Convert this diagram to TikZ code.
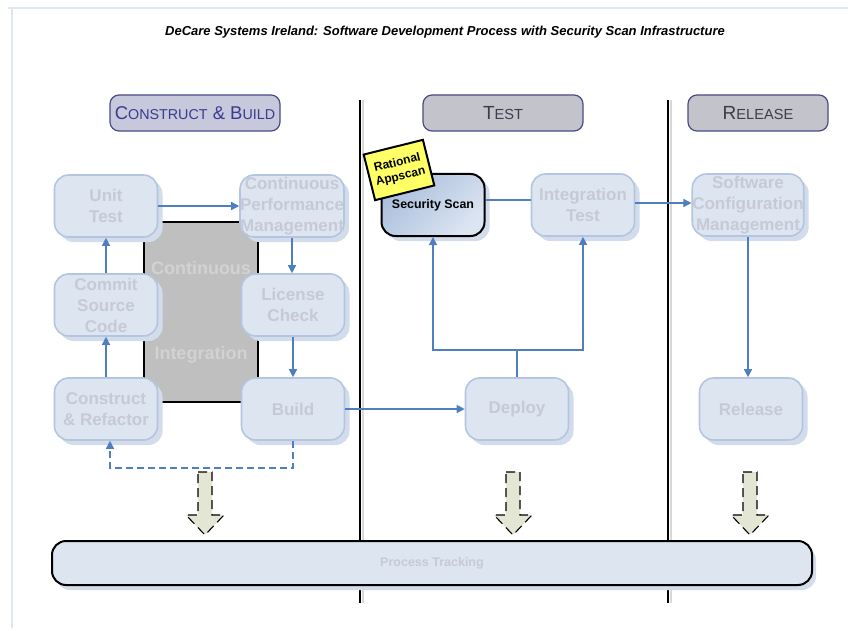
\documentclass[tikz,border=0pt]{standalone}
\usepackage{fontspec}
\setmainfont{Liberation Sans}
\usetikzlibrary{arrows.meta,shadows,calc}
\definecolor{nodefill}{HTML}{DDE5F1}
\definecolor{nodeedge}{HTML}{B3C5DF}
\definecolor{nodetext}{HTML}{C6CAD6}
\definecolor{shadowc}{HTML}{D3DCEA}
\definecolor{flow}{HTML}{4F7FC0}
\definecolor{hdrfill}{HTML}{C3C3CB}
\definecolor{hdrfillB}{HTML}{C8C8DC}
\definecolor{hdredge}{HTML}{4A4A86}
\definecolor{hdrtext}{HTML}{3A3A8E}
\definecolor{hdrtextB}{HTML}{3C3C4C}
\definecolor{citext}{HTML}{D2D2D2}
\definecolor{cifill}{HTML}{BFBFBF}
\definecolor{secfillA}{HTML}{A9BEDC}
\definecolor{secfillB}{HTML}{DCE5F2}
\definecolor{sticker}{HTML}{FFFF66}
\definecolor{blockfill}{HTML}{E4E6D4}
\definecolor{framec}{HTML}{DFE6EF}
\begin{document}
\begin{tikzpicture}[x=1pt,y=-1pt,
  proc/.style={rectangle, rounded corners=14pt, fill=nodefill, draw=nodeedge, line width=1.6pt,
    minimum width=103pt, minimum height=62pt, align=center, text=nodetext,
    font=\fontsize{17}{21}\selectfont\bfseries, inner sep=0pt,
    drop shadow={shadow xshift=5pt, shadow yshift=-5pt, fill=shadowc, opacity=1}},
  hdr/.style={rectangle, rounded corners=9pt, draw=hdredge, line width=1.2pt, fill=hdrfill,
    minimum height=36pt, text=hdrtextB},
  flowline/.style={draw=flow, line width=1.3pt},
  flowarrow/.style={flowline, -{Triangle[width=8pt,length=8pt]}},
  lane/.style={line width=2pt, black},
  blockarrow/.style={draw=black, line width=1.1pt, dashed, dash pattern=on 9pt off 5pt, fill=blockfill}
]
\useasboundingbox (0,0) rectangle (848,631);
% frame
\draw[framec, line width=1.5pt] (8,8) -- (848,8);
\draw[framec, line width=1.5pt] (12,8) -- (12,628);
% title
\node (title) at (445,32) {\fontsize{13}{15}\selectfont\bfseries\itshape DeCare Systems Ireland: Software Development Process with Security Scan Infrastructure};
% lane separators
\draw[lane, gray!30, line width=1.2pt] (363,100) -- (363,603);
\draw[lane, gray!30, line width=1.2pt] (671,100) -- (671,603);
\draw[lane] (360,100) -- (360,603);
\draw[lane] (668,100) -- (668,603);
% headers
\node[hdr, fill=hdrfillB, minimum width=170pt, text=hdrtext, inner sep=2pt] (hcb) at (195,113)
  {\fontsize{18.5}{22}\selectfont C{\fontsize{14.3}{22}\selectfont ONSTRUCT} \& B{\fontsize{14.3}{22}\selectfont UILD}};
\node[hdr, minimum width=160pt] (htest) at (503,113)
  {{\fontsize{19}{22}\selectfont T}{\fontsize{14.6}{22}\selectfont EST}};
\node[hdr, minimum width=140pt] (hrel) at (758,113)
  {{\fontsize{19}{22}\selectfont R}{\fontsize{14.6}{22}\selectfont ELEASE}};
% continuous integration block
\node[rectangle, draw=black, line width=2pt, fill=cifill, minimum width=114pt, minimum height=180pt, inner sep=0pt] (ci) at (201,312) {};
\node[text=citext, font=\fontsize{18}{20}\selectfont\bfseries] (ci1) at (201,268) {Continuous};
\node[text=citext, font=\fontsize{18}{20}\selectfont\bfseries] (ci2) at (201,355) {Integration};
% process nodes
\node[proc] (unit) at (106,206) {Unit\\Test};
\node[proc] (cpm) at (292,206) {Continuous\\Performance\\Management};
\node[proc] (commit) at (106,305) {Commit\\Source\\Code};
\node[proc] (lic) at (293,305) {License\\Check};
\node[proc] (cr) at (106,409) {Construct\\\& Refactor};
\node[proc] (build) at (293,409) {Build};
\node[proc, draw=black, line width=2pt, text=black, top color=secfillA, bottom color=secfillB, shading angle=45,
   font=\fontsize{12.4}{14}\selectfont\bfseries] (sec) at (433,205) {\raisebox{-3pt}{Security Scan}};
\node[proc] (integ) at (583,205) {Integration\\Test};
\node[proc] (deploy) at (517,409) {Deploy};
\node[proc] (scm) at (748,205) {Software\\Configuration\\Management};
\node[proc] (rel) at (751,409) {Release};
% sticker
\node[rectangle, draw=black, line width=2pt, fill=sticker, rotate=14, minimum width=61pt, minimum height=47pt,
  align=center, font=\fontsize{12}{14}\selectfont\bfseries, inner sep=1pt] (stk) at (399,170) {Rational\\Appscan};
% connectors
\draw[flowarrow] (unit.east) -- (cpm.west);
\draw[flowarrow] (cpm.south) -- (cpm.south |- lic.north);
\draw[flowarrow] (lic.south) -- (lic.south |- build.north);
\draw[flowarrow] (cr.north) -- (commit.south);
\draw[flowarrow] (commit.north) -- (unit.south);
\draw[flowarrow] (build.east) -- (deploy.west);
\coordinate (dA) at (293,468);
\coordinate (dB) at (110,468);
\draw[flowline, dashed, dash pattern=on 7pt off 4pt, -{Triangle[width=8pt,length=8pt]}] (build.south) -- (dA) -- (dB) -- (dB |- cr.south);
\coordinate (split) at (517,350);
\draw[flowline] (deploy.north) -- (split);
\draw[flowarrow] (split) -- (sec.south |- split) -- (sec.south);
\draw[flowarrow] (split) -- (integ.south |- split) -- (integ.south);
\draw[flowline] ([yshift=5pt]sec.east) -- ([yshift=5pt]sec.east -| integ.west);
\draw[flowarrow] ([yshift=2pt]integ.east) -- ([yshift=2pt]integ.east -| scm.west);
\draw[flowarrow] (scm.south) -- (scm.south |- rel.north);
% block arrows
\foreach \bx/\nm in {205/ba1, 513/ba2, 750/ba3}{
  \draw[blockarrow] (\bx-7,472) -- (\bx+7,472) -- (\bx+7,515) -- (\bx+19,515) -- (\bx,535) -- (\bx-19,515) -- (\bx-7,515) -- cycle;
}
% process tracking
\node[rectangle, rounded corners=14pt, draw=black, line width=2pt, fill=nodefill, minimum width=760pt, minimum height=44pt,
  text=nodetext, font=\fontsize{12.5}{14}\selectfont\bfseries,
  drop shadow={shadow xshift=4pt, shadow yshift=-5pt, fill=shadowc, opacity=1}] (pt) at (432,563) {Process Tracking};
\end{tikzpicture}
\end{document}
